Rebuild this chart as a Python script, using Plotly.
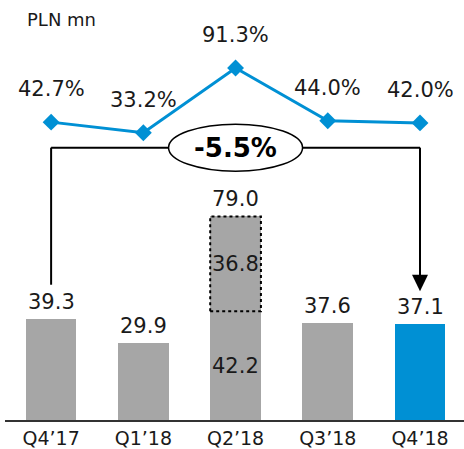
import plotly.graph_objects as go

# quarterly data (PLN mn)
categories = ["Q4’17", "Q1’18", "Q2’18", "Q3’18", "Q4’18"]
base_values = [39.3, 29.9, 42.2, 37.6, 37.1]
one_off_values = [0, 0, 36.8, 0, 0]
total_labels = ["39.3", "29.9", "79.0", "37.6", "37.1"]
margin_pct = [42.7, 33.2, 91.3, 44.0, 42.0]
margin_labels = ["42.7%", "33.2%", "91.3%", "44.0%", "42.0%"]
change_label = "-5.5%"

GRAY = "#A6A6A6"
BLUE = "#0090D4"
TEXT = "#1a1a1a"
FONT = "DejaVu Sans"

bar_colors = [GRAY, GRAY, GRAY, GRAY, BLUE]
x_idx = list(range(len(categories)))
totals = [b + o for b, o in zip(base_values, one_off_values)]

fig = go.Figure()

fig.add_trace(go.Bar(
    x=x_idx, y=base_values, width=0.55,
    marker=dict(color=bar_colors, line=dict(width=0)),
    hoverinfo="skip", showlegend=False,
))
fig.add_trace(go.Bar(
    x=x_idx, y=one_off_values, width=0.55,
    marker=dict(color=GRAY, line=dict(width=0)),
    hoverinfo="skip", showlegend=False,
))
fig.add_trace(go.Scatter(
    x=x_idx, y=margin_pct, yaxis="y2", mode="lines+markers",
    line=dict(color=BLUE, width=3),
    marker=dict(symbol="diamond", size=13, color=BLUE),
    hoverinfo="skip", showlegend=False,
))

annotations = []
# totals above bars
for i, (t, lab) in enumerate(zip(totals, total_labels)):
    annotations.append(dict(x=i, y=t, xref="x", yref="y", text=lab, showarrow=False,
                            yanchor="middle", yshift=17, font=dict(size=21, color=TEXT)))
# segment labels inside the Q2 bar
for i, (b, o) in enumerate(zip(base_values, one_off_values)):
    if o > 0:
        annotations.append(dict(x=i, y=b / 2, xref="x", yref="y", text=f"{b:.1f}",
                                showarrow=False, font=dict(size=21, color=TEXT)))
        annotations.append(dict(x=i, y=b + o / 2, xref="x", yref="y", text=f"{o:.1f}",
                                showarrow=False, font=dict(size=21, color=TEXT)))
# margin labels
for i, (v, lab) in enumerate(zip(margin_pct, margin_labels)):
    annotations.append(dict(x=i, y=v, xref="x", yref="y2", text=lab, showarrow=False,
                            yanchor="middle", yshift=33, font=dict(size=21, color=TEXT)))

bracket_y = 105.7
annotations.append(dict(x=2, y=bracket_y, xref="x", yref="y", text="<b>" + change_label + "</b>",
                        showarrow=False, font=dict(size=26, color="black")))
annotations.append(dict(x=0.0436, y=0.9526, xref="paper", yref="paper", text="PLN mn",
                        showarrow=False, xanchor="left", yanchor="middle",
                        font=dict(size=18, color=TEXT)))

shapes = []
# dotted outline of the one-off part
for i, (b, o) in enumerate(zip(base_values, one_off_values)):
    if o > 0:
        shapes.append(dict(type="rect", xref="x", yref="y", x0=i - 0.275, x1=i + 0.275,
                           y0=b, y1=b + o, line=dict(color="black", width=2, dash="dot")))
# bracket from first to last quarter
left_bottom = totals[0] + 13.2
arrow_tip = totals[-1] + 12.9
shapes.append(dict(type="line", xref="x", yref="y", x0=0, x1=0, y0=left_bottom, y1=bracket_y,
                   line=dict(color="black", width=2)))
shapes.append(dict(type="line", xref="x", yref="y", x0=0, x1=4, y0=bracket_y, y1=bracket_y,
                   line=dict(color="black", width=2)))
shapes.append(dict(type="line", xref="x", yref="y", x0=4, x1=4, y0=bracket_y, y1=arrow_tip + 6,
                   line=dict(color="black", width=2)))
shapes.append(dict(type="path", xref="x", yref="y", xsizemode="pixel", ysizemode="pixel",
                   xanchor=4, yanchor=arrow_tip, path="M-8,16.5 L8,16.5 L0,0 Z",
                   fillcolor="black", line=dict(color="black", width=0)))
shapes.append(dict(type="circle", xref="x", yref="y", xsizemode="pixel", ysizemode="pixel",
                   xanchor=2, yanchor=bracket_y, x0=-67, x1=67, y0=-23.5, y1=23.5,
                   fillcolor="white", line=dict(color="black", width=1.5)))

fig.update_layout(
    width=464, height=449,
    margin=dict(l=5, r=0, t=0, b=27),
    barmode="stack",
    plot_bgcolor="white", paper_bgcolor="white",
    font=dict(family=FONT, color=TEXT),
    xaxis=dict(range=[-0.5, 4.477], tickmode="array", tickvals=x_idx, ticktext=categories,
               showgrid=False, zeroline=False, showline=True, linecolor="#333", linewidth=2,
               ticks="", tickfont=dict(size=19, color=TEXT)),
    yaxis=dict(range=[0, 163], visible=False, showgrid=False),
    yaxis2=dict(range=[-224.5, 152.25], overlaying="y", visible=False, showgrid=False),
    annotations=annotations,
    shapes=shapes,
)

# drop the browser's default page margin so the figure sits at the window corner
fig.write_html("out.html", config={"displayModeBar": False},
               post_script="document.body.style.margin='0';")
